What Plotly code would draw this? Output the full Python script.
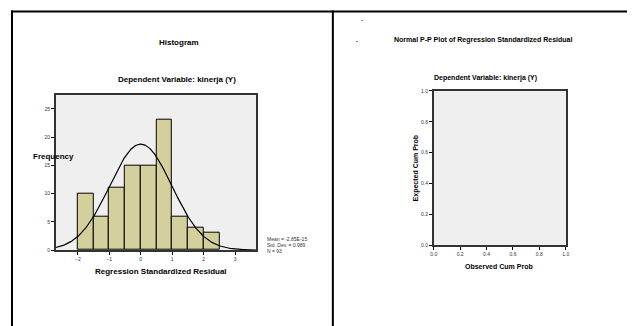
import numpy as np
import plotly.graph_objects as go

# The page body has an 8px margin, so the figure is sized to the visible area
# and all reference pixel positions are converted with that 8px offset.
OFF = 8
W, H = 635 - OFF, 326 - OFF

# ---- data ----
bin_centers = [-1.75, -1.25, -0.75, -0.25, 0.25, 0.75, 1.25, 1.75, 2.25]
counts = [10, 6, 11, 15, 15, 23, 6, 4, 3]
bin_width = 0.5
mean_val = -2.85e-15
std_dev = 0.989
n_obs = 93
hist_xticks = [-2, -1, 0, 1, 2, 3]
hist_yticks = [0, 5, 10, 15, 20, 25]
pp_ticks = [0.0, 0.2, 0.4, 0.6, 0.8, 1.0]
pp_ticklabels = ["0.0", "0.2", "0.4", "0.6", "0.8", "1.0"]
stats_lines = ["Mean = -2.85E-15", "Std. Dev. = 0.989", "N = 93"]

FONT = "Liberation Sans, Arial, sans-serif"
hist_xrange = [-2.7, 3.67]
hist_yrange = [0, 27.5]


def px(x):
    return (x - OFF) / W


def py(y):
    return 1 - (y - OFF) / H


# fitted normal curve (as drawn by the original software)
xs = np.linspace(hist_xrange[0], hist_xrange[1], 300)
ys = n_obs * bin_width * np.exp(-0.5 * ((xs - mean_val) / std_dev) ** 2) / (std_dev * np.sqrt(2 * np.pi))

fig = go.Figure()
fig.add_trace(go.Bar(
    x=bin_centers, y=counts, width=bin_width,
    marker=dict(color="#D4D09E", line=dict(color="black", width=1)),
    xaxis="x", yaxis="y", showlegend=False, hoverinfo="skip"))
fig.add_trace(go.Scatter(
    x=xs, y=ys, mode="lines", line=dict(color="black", width=1.2),
    xaxis="x", yaxis="y", showlegend=False, hoverinfo="skip"))
fig.add_trace(go.Scatter(x=[], y=[], xaxis="x2", yaxis="y2", showlegend=False))

axis_common = dict(
    showgrid=False, zeroline=False, showline=True, mirror=True,
    linecolor="#333333", linewidth=1.5, ticks="outside", ticklen=3,
    tickwidth=1, tickcolor="black",
    tickfont=dict(family=FONT, size=5, color="#333333"),
)

fig.update_layout(
    width=W, height=H,
    margin=dict(l=0, r=0, t=0, b=0),
    paper_bgcolor="white", plot_bgcolor="#EFEFEF",
    bargap=0,
    xaxis=dict(domain=[px(53.3), px(256)], range=hist_xrange, anchor="y",
               tickvals=hist_xticks, **axis_common),
    yaxis=dict(domain=[py(251.7), py(93.3)], range=hist_yrange, anchor="x",
               tickvals=hist_yticks, **axis_common),
    xaxis2=dict(domain=[px(435.5), px(569)], range=[0, 1], anchor="y2",
                tickvals=pp_ticks, ticktext=pp_ticklabels, **axis_common),
    yaxis2=dict(domain=[py(246.5), py(89.5)], range=[0, 1], anchor="x2",
                tickvals=pp_ticks, ticktext=pp_ticklabels, **axis_common),
)

# outer frame lines
fig.add_shape(type="line", xref="paper", yref="paper", x0=px(8), x1=1.01, y0=py(8.5), y1=py(8.5),
              line=dict(color="black", width=2))
fig.add_shape(type="line", xref="paper", yref="paper", x0=px(9), x1=px(9), y0=py(7.5), y1=-0.01,
              line=dict(color="black", width=2))
fig.add_shape(type="line", xref="paper", yref="paper", x0=px(333.5), x1=px(333.5), y0=py(7.5), y1=-0.01,
              line=dict(color="black", width=2))


def label(text, x, y, size, bold=True, angle=0, xanchor="center"):
    fig.add_annotation(
        text=f"<b>{text}</b>" if bold else text,
        x=px(x), y=py(y), xref="paper", yref="paper",
        xanchor=xanchor, yanchor="middle", showarrow=False, textangle=angle,
        font=dict(family=FONT, size=size, color="black"))


label("Histogram", 178, 40, 8)
label("Dependent Variable: kinerja (Y)", 176, 78, 8)
label("Frequency", 51, 156.5, 8)
label("Regression Standardized Residual", 160, 273, 8)
for i, line in enumerate(stats_lines):
    fig.add_annotation(
        text=line, x=px(265), y=py(240.7 + 6 * i), xref="paper", yref="paper",
        xanchor="left", yanchor="middle", showarrow=False,
        font=dict(family=FONT, size=5, color="#333333"))

label("Normal P-P Plot of Regression Standardized Residual", 485, 37.3, 7)
label("Dependent Variable: kinerja (Y)", 488, 76, 7)
label("Expected Cum Prob", 418, 168, 7, angle=-90)
label("Observed Cum Prob", 502, 268.5, 7)
label("`", 362.7, 20, 7)
label(".", 358, 37, 7)

fig.write_html("out.html")
